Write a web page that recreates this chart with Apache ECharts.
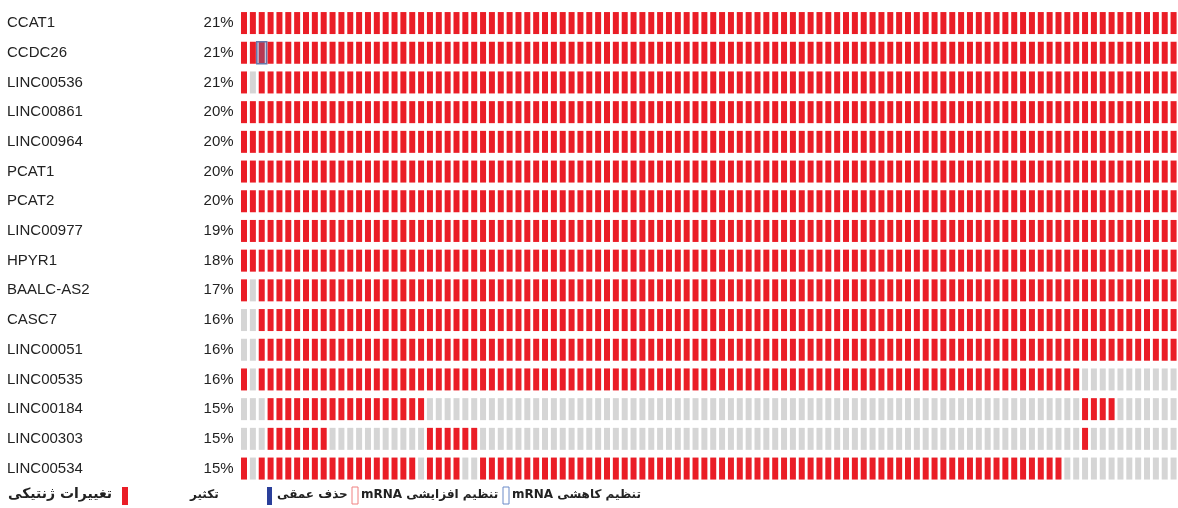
<!DOCTYPE html>
<html>
<head>
<meta charset="utf-8">
<script src="https://cdn.jsdelivr.net/npm/echarts@6/dist/echarts.min.js"></script>
<style>
  html, body { margin: 0; padding: 0; background: #fff; }
  #chart { width: 1178px; height: 508px; }
</style>
</head>
<body>
<div id="chart"></div>
<script>
// genes (top to bottom) and altered-sample percentages
var genes = ["CCAT1", "CCDC26", "LINC00536", "LINC00861", "LINC00964", "PCAT1", "PCAT2",
  "LINC00977", "HPYR1", "BAALC-AS2", "CASC7", "LINC00051", "LINC00535", "LINC00184",
  "LINC00303", "LINC00534"];
var percents = ["21%", "21%", "21%", "20%", "20%", "20%", "20%", "19%", "18%", "17%",
  "16%", "16%", "16%", "15%", "15%", "15%"];
var sampleCount = 106;

// amplified samples per gene, as [first, last] column ranges
var ampRanges = [
  [[0, 105]],
  [[0, 105]],
  [[0, 0], [2, 105]],
  [[0, 105]],
  [[0, 105]],
  [[0, 105]],
  [[0, 105]],
  [[0, 105]],
  [[0, 105]],
  [[0, 0], [2, 105]],
  [[2, 105]],
  [[2, 105]],
  [[0, 0], [2, 94]],
  [[3, 20], [95, 98]],
  [[3, 9], [21, 26], [95, 95]],
  [[0, 0], [2, 19], [21, 24], [27, 92]]
];
// mRNA downregulation marks: [gene index, sample index]
var mrnaDown = [[1, 2]];

var cells = [];
genes.forEach(function (g, r) {
  for (var i = 0; i < sampleCount; i++) {
    var amp = ampRanges[r].some(function (rg) { return i >= rg[0] && i <= rg[1]; });
    var down = mrnaDown.some(function (m) { return m[0] === r && m[1] === i; });
    cells.push([i, r, amp ? 1 : 0, down ? 1 : 0]);
  }
});

var RED = "#ea1d26";
var GRAY = "#d5d5d5";
var BLUE = "#2a3f9a";
var FA = "bold 12px 'DejaVu Sans'";

var chart = echarts.init(document.getElementById("chart"));

var option = {
  animation: false,
  backgroundColor: "#fff",
  grid: { left: 239.6, width: 939.5, top: 8.2, height: 475.2 },
  xAxis: {
    type: "value", min: -0.5, max: sampleCount - 0.5,
    show: false
  },
  yAxis: [
    {
      type: "category", data: genes, inverse: true,
      axisLine: { show: false }, axisTick: { show: false }, splitLine: { show: false },
      axisLabel: {
        align: "left", margin: 232.6, color: "#222",
        fontFamily: "Liberation Sans", fontSize: 15
      }
    },
    {
      type: "category", data: percents, inverse: true, position: "left",
      axisLine: { show: false }, axisTick: { show: false }, splitLine: { show: false },
      axisLabel: {
        align: "right", margin: 6, color: "#222",
        fontFamily: "Liberation Sans", fontSize: 15
      }
    }
  ],
  series: [{
    type: "custom",
    data: cells,
    encode: { x: 0, y: 1 },
    renderItem: function (params, api) {
      var c = api.coord([api.value(0), api.value(1)]);
      var w = 6, h = 22;
      var kids = [{
        type: "rect",
        shape: { x: c[0] - w / 2, y: c[1] - h / 2, width: w, height: h },
        style: { fill: api.value(2) ? RED : GRAY }
      }];
      if (api.value(3)) {
        kids.push({
          type: "rect",
          shape: { x: c[0] - 5, y: c[1] - h / 2, width: 10, height: h },
          style: { fill: "rgba(90,110,170,0.35)", stroke: "#6577aa", lineWidth: 1.5 }
        });
      }
      return { type: "group", children: kids };
    }
  }],
  graphic: [
    { type: "text", left: 8, top: 487, style: { text: "تغییرات ژنتیکی", font: "bold 14px 'DejaVu Sans'", fill: "#222" } },
    { type: "rect", shape: { x: 122, y: 487, width: 6, height: 18 }, style: { fill: RED } },
    { type: "text", left: 190, top: 489, style: { text: "تکثیر", font: FA, fill: "#222" } },
    { type: "rect", shape: { x: 267, y: 487, width: 5, height: 18 }, style: { fill: BLUE } },
    { type: "text", left: 277, top: 489, style: { text: "حذف عمقی", font: FA, fill: "#222" } },
    { type: "rect", shape: { x: 352, y: 487, width: 6, height: 17 }, style: { fill: "none", stroke: "#f08080", lineWidth: 1 } },
    { type: "text", left: 361, top: 489, style: { text: "mRNA تنظیم افزایشی", font: FA, fill: "#222" } },
    { type: "rect", shape: { x: 503, y: 487, width: 6, height: 17 }, style: { fill: "none", stroke: "#6a8ac8", lineWidth: 1 } },
    { type: "text", left: 512, top: 489, style: { text: "mRNA تنظیم کاهشی", font: FA, fill: "#222" } }
  ]
};
chart.setOption(option);
</script>
</body>
</html>
